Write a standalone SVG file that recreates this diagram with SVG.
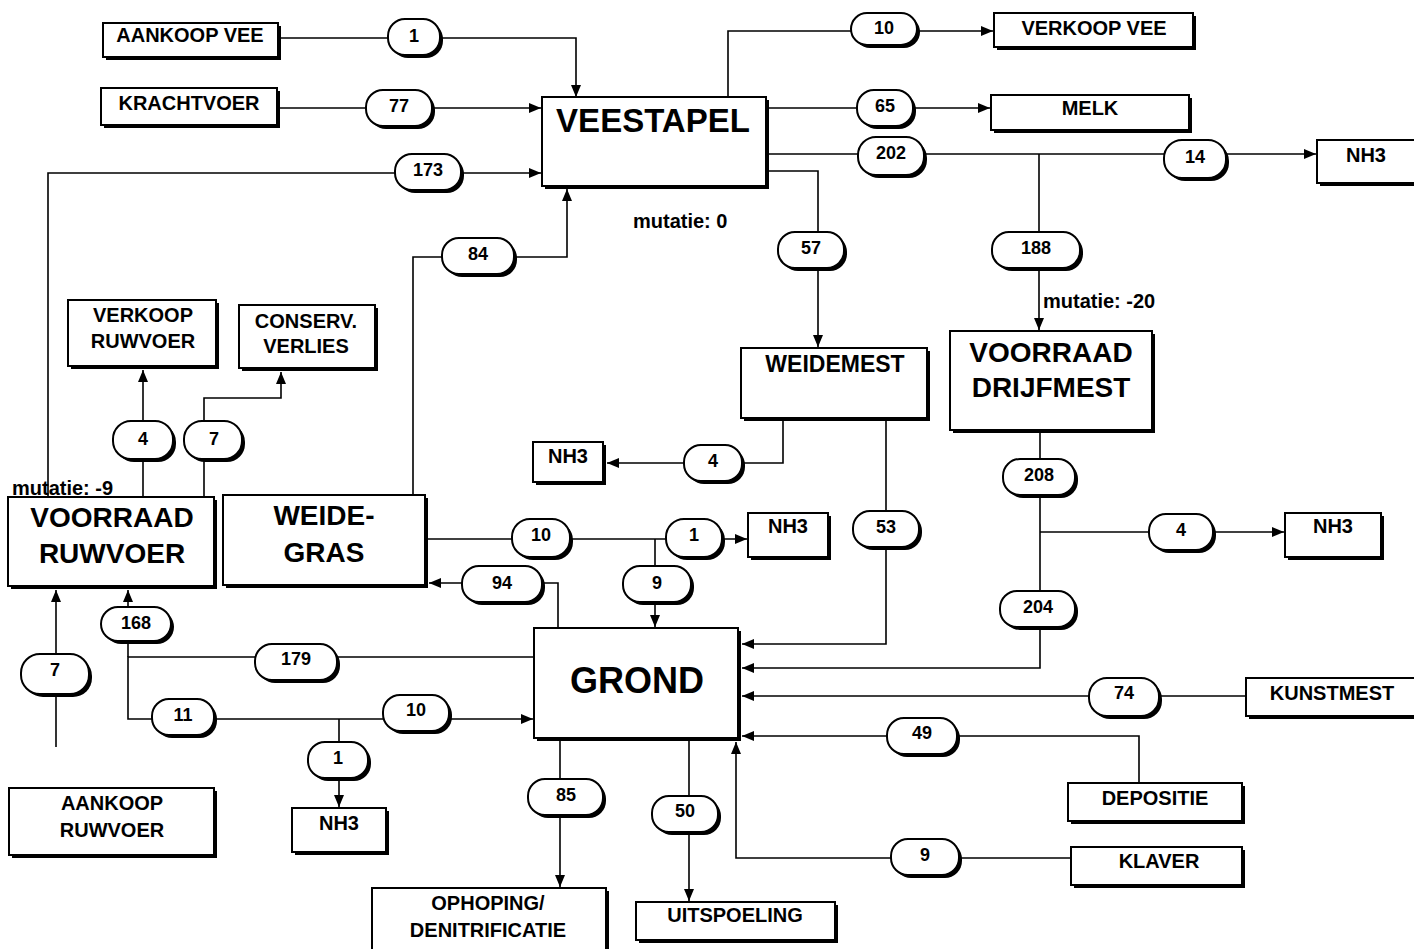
<svg xmlns="http://www.w3.org/2000/svg" width="1414" height="949" viewBox="0 0 1414 949">
<defs>
<style>
.bg{fill:#fff}
.sh{fill:#000}
.bx{fill:#fff;stroke:#000;stroke-width:2}
.t{font-family:"Liberation Sans",Arial,sans-serif;font-weight:bold;font-size:20px;text-anchor:middle;fill:#000}
.tb{font-size:28px}
.n{font-family:"Liberation Sans",Arial,sans-serif;font-weight:bold;font-size:18px;text-anchor:middle;fill:#000}
.m{font-family:"Liberation Sans",Arial,sans-serif;font-weight:bold;font-size:20px;fill:#000}
.c{fill:none;stroke:#000;stroke-width:1.6}
.a{marker-end:url(#ah)}
</style>
<marker id="ah" markerWidth="13" markerHeight="11" refX="12" refY="5" orient="auto" markerUnits="userSpaceOnUse">
<path d="M0,0 L12,5 L0,10 z" fill="#000"/>
</marker>
</defs>
<rect class="bg" x="0" y="0" width="1414" height="949"/>

<g id="connectors">
<path class="c a" d="M281,38 H576 V97"/>
<path class="c a" d="M280,108 H541"/>
<path class="c a" d="M48,497 V173 H541"/>
<path class="c a" d="M413,494 V257 H567 V189"/>
<path class="c a" d="M728,97 V31 H993"/>
<path class="c a" d="M769,108 H990"/>
<path class="c a" d="M769,154 H1316"/>
<path class="c a" d="M1039,154 V330"/>
<path class="c a" d="M769,171 H818 V347"/>
<path class="c a" d="M783,421 V463 H607"/>
<path class="c a" d="M886,421 V644 H742"/>
<path class="c a" d="M1040,433 V668 H742"/>
<path class="c a" d="M1040,532 H1284"/>
<path class="c a" d="M1246,696 H742"/>
<path class="c a" d="M1139,783 V736 H742"/>
<path class="c a" d="M1071,858 H736 V742"/>
<path class="c a" d="M143,497 V370"/>
<path class="c a" d="M204,497 V398 H281 V372"/>
<path class="c a" d="M428,539 H747"/>
<path class="c a" d="M655,539 V627"/>
<path class="c a" d="M558,628 V583 H429"/>
<path class="c a" d="M56,747 V590"/>
<path class="c a" d="M534,657 H128 V719 H533"/>
<path class="c a" d="M128,657 V590"/>
<path class="c a" d="M339,719 V807"/>
<path class="c a" d="M560,741 V887"/>
<path class="c a" d="M689,741 V901"/>
</g>

<g id="aankoop-vee"><rect class="sh" x="106" y="26" width="175" height="34"/><rect class="bx" x="103" y="23" width="175" height="34"/><text class="t" x="190" y="42">AANKOOP VEE</text></g>
<g id="krachtvoer"><rect class="sh" x="104" y="91" width="176" height="37"/><rect class="bx" x="101" y="88" width="176" height="37"/><text class="t" x="189" y="110">KRACHTVOER</text></g>
<g id="veestapel"><rect class="sh" x="545" y="100" width="224" height="89"/><rect class="bx" x="542" y="97" width="224" height="89"/><text class="t" style="font-size:33px" x="653" y="132">VEESTAPEL</text></g>
<g id="verkoop-vee"><rect class="sh" x="997" y="16" width="199" height="34"/><rect class="bx" x="994" y="13" width="199" height="34"/><text class="t" x="1094" y="35">VERKOOP VEE</text></g>
<g id="melk"><rect class="sh" x="994" y="98" width="198" height="35"/><rect class="bx" x="991" y="95" width="198" height="35"/><text class="t" x="1090" y="115">MELK</text></g>
<g id="nh3-a"><rect class="sh" x="1320" y="143" width="100" height="43"/><rect class="bx" x="1317" y="140" width="100" height="43"/><text class="t" x="1366" y="162">NH3</text></g>
<g id="weidemest"><rect class="sh" x="744" y="351" width="186" height="70"/><rect class="bx" x="741" y="348" width="186" height="70"/><text class="t" style="font-size:23px" x="835" y="372">WEIDEMEST</text></g>
<g id="voorraad-drijfmest"><rect class="sh" x="953" y="334" width="202" height="99"/><rect class="bx" x="950" y="331" width="202" height="99"/><text class="t tb" x="1051" y="362">VOORRAAD</text><text class="t tb" x="1051" y="397">DRIJFMEST</text></g>
<g id="verkoop-ruwvoer"><rect class="sh" x="71" y="303" width="148" height="66"/><rect class="bx" x="68" y="300" width="148" height="66"/><text class="t" x="143" y="322">VERKOOP</text><text class="t" x="143" y="348">RUWVOER</text></g>
<g id="conserv-verlies"><rect class="sh" x="242" y="308" width="136" height="63"/><rect class="bx" x="239" y="305" width="136" height="63"/><text class="t" x="306" y="328">CONSERV.</text><text class="t" x="306" y="353">VERLIES</text></g>
<g id="voorraad-ruwvoer"><rect class="sh" x="11" y="500" width="206" height="89"/><rect class="bx" x="8" y="497" width="206" height="89"/><text class="t tb" x="112" y="527">VOORRAAD</text><text class="t tb" x="112" y="563">RUWVOER</text></g>
<g id="weide-gras"><rect class="sh" x="226" y="498" width="202" height="90"/><rect class="bx" x="223" y="495" width="202" height="90"/><text class="t tb" x="324" y="525">WEIDE-</text><text class="t tb" x="324" y="562">GRAS</text></g>
<g id="nh3-b"><rect class="sh" x="536" y="445" width="70" height="40"/><rect class="bx" x="533" y="442" width="70" height="40"/><text class="t" x="568" y="463">NH3</text></g>
<g id="nh3-c"><rect class="sh" x="751" y="516" width="80" height="44"/><rect class="bx" x="748" y="513" width="80" height="44"/><text class="t" x="788" y="533">NH3</text></g>
<g id="nh3-d"><rect class="sh" x="1288" y="516" width="96" height="44"/><rect class="bx" x="1285" y="513" width="96" height="44"/><text class="t" x="1333" y="533">NH3</text></g>
<g id="grond"><rect class="sh" x="537" y="631" width="204" height="110"/><rect class="bx" x="534" y="628" width="204" height="110"/><text class="t" style="font-size:36px" x="637" y="693">GROND</text></g>
<g id="aankoop-ruwvoer"><rect class="sh" x="12" y="791" width="205" height="67"/><rect class="bx" x="9" y="788" width="205" height="67"/><text class="t" x="112" y="810">AANKOOP</text><text class="t" x="112" y="837">RUWVOER</text></g>
<g id="nh3-e"><rect class="sh" x="295" y="811" width="94" height="44"/><rect class="bx" x="292" y="808" width="94" height="44"/><text class="t" x="339" y="830">NH3</text></g>
<g id="ophoping"><rect class="sh" x="375" y="891" width="234" height="62"/><rect class="bx" x="372" y="888" width="234" height="62"/><text class="t" x="488" y="910">OPHOPING/</text><text class="t" x="488" y="937">DENITRIFICATIE</text></g>
<g id="uitspoeling"><rect class="sh" x="639" y="905" width="199" height="38"/><rect class="bx" x="636" y="902" width="199" height="38"/><text class="t" x="735" y="922">UITSPOELING</text></g>
<g id="kunstmest"><rect class="sh" x="1249" y="681" width="170" height="38"/><rect class="bx" x="1246" y="678" width="170" height="38"/><text class="t" x="1332" y="700">KUNSTMEST</text></g>
<g id="depositie"><rect class="sh" x="1071" y="786" width="174" height="38"/><rect class="bx" x="1068" y="783" width="174" height="38"/><text class="t" x="1155" y="805">DEPOSITIE</text></g>
<g id="klaver"><rect class="sh" x="1074" y="850" width="171" height="38"/><rect class="bx" x="1071" y="847" width="171" height="38"/><text class="t" x="1159" y="868">KLAVER</text></g>

<g id="flow-1a"><rect class="sh" x="391" y="22" width="52" height="36" rx="17"/><rect class="bx" x="388" y="19" width="52" height="36" rx="17"/><text class="n" x="414" y="42">1</text></g>
<g id="flow-77"><rect class="sh" x="369" y="93" width="66" height="36" rx="17"/><rect class="bx" x="366" y="90" width="66" height="36" rx="17"/><text class="n" x="399" y="112">77</text></g>
<g id="flow-173"><rect class="sh" x="398" y="157" width="66" height="36" rx="17"/><rect class="bx" x="395" y="154" width="66" height="36" rx="17"/><text class="n" x="428" y="176">173</text></g>
<g id="flow-84"><rect class="sh" x="445" y="241" width="72" height="36" rx="17"/><rect class="bx" x="442" y="238" width="72" height="36" rx="17"/><text class="n" x="478" y="260">84</text></g>
<g id="flow-10a"><rect class="sh" x="854" y="16" width="66" height="32" rx="16"/><rect class="bx" x="851" y="13" width="66" height="32" rx="16"/><text class="n" x="884" y="34">10</text></g>
<g id="flow-65"><rect class="sh" x="860" y="93" width="56" height="36" rx="17"/><rect class="bx" x="857" y="90" width="56" height="36" rx="17"/><text class="n" x="885" y="112">65</text></g>
<g id="flow-202"><rect class="sh" x="861" y="140" width="66" height="38" rx="18"/><rect class="bx" x="858" y="137" width="66" height="38" rx="18"/><text class="n" x="891" y="159">202</text></g>
<g id="flow-14"><rect class="sh" x="1167" y="143" width="62" height="38" rx="18"/><rect class="bx" x="1164" y="140" width="62" height="38" rx="18"/><text class="n" x="1195" y="163">14</text></g>
<g id="flow-57"><rect class="sh" x="781" y="235" width="66" height="36" rx="17"/><rect class="bx" x="778" y="232" width="66" height="36" rx="17"/><text class="n" x="811" y="254">57</text></g>
<g id="flow-188"><rect class="sh" x="995" y="235" width="88" height="36" rx="17"/><rect class="bx" x="992" y="232" width="88" height="36" rx="17"/><text class="n" x="1036" y="254">188</text></g>
<g id="flow-4a"><rect class="sh" x="116" y="424" width="60" height="38" rx="18"/><rect class="bx" x="113" y="421" width="60" height="38" rx="18"/><text class="n" x="143" y="445">4</text></g>
<g id="flow-7a"><rect class="sh" x="187" y="424" width="58" height="38" rx="18"/><rect class="bx" x="184" y="421" width="58" height="38" rx="18"/><text class="n" x="214" y="445">7</text></g>
<g id="flow-4b"><rect class="sh" x="687" y="448" width="58" height="36" rx="17"/><rect class="bx" x="684" y="445" width="58" height="36" rx="17"/><text class="n" x="713" y="467">4</text></g>
<g id="flow-10b"><rect class="sh" x="515" y="522" width="58" height="38" rx="18"/><rect class="bx" x="512" y="519" width="58" height="38" rx="18"/><text class="n" x="541" y="541">10</text></g>
<g id="flow-1b"><rect class="sh" x="669" y="522" width="56" height="38" rx="18"/><rect class="bx" x="666" y="519" width="56" height="38" rx="18"/><text class="n" x="694" y="541">1</text></g>
<g id="flow-53"><rect class="sh" x="856" y="514" width="66" height="36" rx="17"/><rect class="bx" x="853" y="511" width="66" height="36" rx="17"/><text class="n" x="886" y="533">53</text></g>
<g id="flow-9a"><rect class="sh" x="626" y="569" width="68" height="36" rx="17"/><rect class="bx" x="623" y="566" width="68" height="36" rx="17"/><text class="n" x="657" y="589">9</text></g>
<g id="flow-94"><rect class="sh" x="465" y="569" width="80" height="36" rx="17"/><rect class="bx" x="462" y="566" width="80" height="36" rx="17"/><text class="n" x="502" y="589">94</text></g>
<g id="flow-168"><rect class="sh" x="104" y="610" width="70" height="34" rx="17"/><rect class="bx" x="101" y="607" width="70" height="34" rx="17"/><text class="n" x="136" y="629">168</text></g>
<g id="flow-7b"><rect class="sh" x="24" y="657" width="68" height="40" rx="19"/><rect class="bx" x="21" y="654" width="68" height="40" rx="19"/><text class="n" x="55" y="676">7</text></g>
<g id="flow-179"><rect class="sh" x="258" y="647" width="82" height="36" rx="17"/><rect class="bx" x="255" y="644" width="82" height="36" rx="17"/><text class="n" x="296" y="665">179</text></g>
<g id="flow-11"><rect class="sh" x="155" y="702" width="62" height="36" rx="17"/><rect class="bx" x="152" y="699" width="62" height="36" rx="17"/><text class="n" x="183" y="721">11</text></g>
<g id="flow-10c"><rect class="sh" x="386" y="698" width="66" height="36" rx="17"/><rect class="bx" x="383" y="695" width="66" height="36" rx="17"/><text class="n" x="416" y="716">10</text></g>
<g id="flow-1c"><rect class="sh" x="311" y="745" width="60" height="36" rx="17"/><rect class="bx" x="308" y="742" width="60" height="36" rx="17"/><text class="n" x="338" y="764">1</text></g>
<g id="flow-85"><rect class="sh" x="531" y="782" width="75" height="36" rx="17"/><rect class="bx" x="528" y="779" width="75" height="36" rx="17"/><text class="n" x="566" y="801">85</text></g>
<g id="flow-50"><rect class="sh" x="655" y="799" width="66" height="36" rx="17"/><rect class="bx" x="652" y="796" width="66" height="36" rx="17"/><text class="n" x="685" y="817">50</text></g>
<g id="flow-208"><rect class="sh" x="1006" y="462" width="72" height="36" rx="17"/><rect class="bx" x="1003" y="459" width="72" height="36" rx="17"/><text class="n" x="1039" y="481">208</text></g>
<g id="flow-4c"><rect class="sh" x="1152" y="517" width="64" height="36" rx="17"/><rect class="bx" x="1149" y="514" width="64" height="36" rx="17"/><text class="n" x="1181" y="536">4</text></g>
<g id="flow-204"><rect class="sh" x="1003" y="594" width="75" height="36" rx="17"/><rect class="bx" x="1000" y="591" width="75" height="36" rx="17"/><text class="n" x="1038" y="613">204</text></g>
<g id="flow-74"><rect class="sh" x="1092" y="681" width="70" height="38" rx="18"/><rect class="bx" x="1089" y="678" width="70" height="38" rx="18"/><text class="n" x="1124" y="699">74</text></g>
<g id="flow-49"><rect class="sh" x="890" y="721" width="70" height="36" rx="17"/><rect class="bx" x="887" y="718" width="70" height="36" rx="17"/><text class="n" x="922" y="739">49</text></g>
<g id="flow-9b"><rect class="sh" x="894" y="842" width="68" height="36" rx="17"/><rect class="bx" x="891" y="839" width="68" height="36" rx="17"/><text class="n" x="925" y="861">9</text></g>

<g id="labels">
<text class="m" x="633" y="228">mutatie: 0</text>
<text class="m" x="1043" y="308">mutatie: -20</text>
<text class="m" x="12" y="495">mutatie: -9</text>
</g>
</svg>
